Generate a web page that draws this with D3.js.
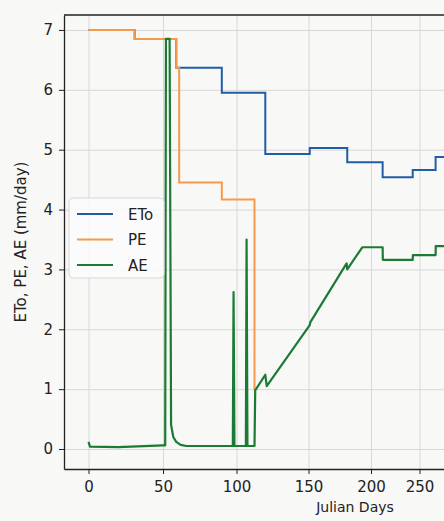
<!DOCTYPE html>
<html>
<head>
<meta charset="utf-8">
<script src="https://cdn.jsdelivr.net/npm/d3@7"></script>
<style>
  html, body { margin: 0; padding: 0; background: #f8f8f7; }
  #chart { width: 444px; height: 521px; overflow: hidden; }
  text { font-family: "DejaVu Sans", sans-serif; fill: #222; }
  .grid line { stroke: #d4d4d4; stroke-width: 0.9; }
  .grid path { display: none; }
  .axis path, .axis line { stroke: #222; }
  .axis text { font-size: 15px; }
</style>
</head>
<body>
<div id="chart"></div>
<script>
// ── Data ─────────────────────────────────────────────────────────────────
// ETo: monthly reference values, each holds until the next day listed
const etoDays = [0, 31, 59, 90, 120, 151, 181, 212, 243, 273, 290];
const etoValues = [7.0, 6.85, 6.37, 5.95, 4.93, 5.03, 4.79, 4.54, 4.66, 4.88, 4.88];

// PE: step values (stepAfter), last step is the drop before AE covers it
const peDays = [0, 31, 59, 61, 90, 112.5];
const peValues = [7.0, 6.85, 6.37, 4.45, 4.17, 0.98];

// AE: traced points
const aeDays = [
  0, 1, 20, 50, 51.5, 52, 54.5, 55.5, 57, 59, 62, 66,
  97.5, 98, 98.6, 106.5, 107, 107.6, 112.5, 113,
  120, 121, 151, 151.5, 180.5, 181, 193, 212, 212.2, 243, 243.2, 273, 273.2, 290,
];
const aeValues = [
  0.12, 0.04, 0.03, 0.06, 0.06, 6.85, 6.85, 0.4, 0.2, 0.12, 0.07, 0.05,
  0.05, 2.62, 0.05, 0.05, 3.5, 0.05, 0.05, 0.98,
  1.24, 1.05, 2.07, 2.12, 3.1, 3.0, 3.37, 3.37, 3.16, 3.16, 3.24, 3.24, 3.39, 3.39,
];

const xTicks = [0, 50, 100, 150, 200, 250];
const yTicks = [0, 1, 2, 3, 4, 5, 6, 7];
const seriesNames = ["ETo", "PE", "AE"];

function renderChart(selector) {
  // ── Dimensions ─────────────────────────────────────────────────────────
  const W = 444, H = 521;
  const plot = { left: 64, top: 15, right: 447.5, bottom: 469 };

  const svg = d3.select(selector)
    .append("svg")
    .attr("width", W)
    .attr("height", H);

  // ── Scales ─────────────────────────────────────────────────────────────
  // the printed page bends away to the right, so day spacing shrinks
  const x = d3.scaleLinear()
    .domain([-16.5, 0, 50, 100, 150, 200, 250, 290])
    .range([plot.left, 88.5, 163, 236.5, 308.5, 371, 419.5, plot.right]);

  const y = d3.scaleLinear()
    .domain([-0.334, 7.25])
    .range([plot.bottom, plot.top]);

  const color = d3.scaleOrdinal()
    .domain(seriesNames)
    .range(["#1f5ea6", "#f7994a", "#1b7a33"]);

  // ── Grid ───────────────────────────────────────────────────────────────
  svg.append("g")
    .attr("class", "grid")
    .attr("transform", `translate(0,${plot.bottom})`)
    .call(d3.axisBottom(x).tickValues(xTicks).tickSize(-(plot.bottom - plot.top)).tickFormat(""));

  svg.append("g")
    .attr("class", "grid")
    .attr("transform", `translate(${plot.left},0)`)
    .call(d3.axisLeft(y).tickValues(yTicks).tickSize(-(plot.right - plot.left)).tickFormat(""));

  // ── Lines ──────────────────────────────────────────────────────────────
  svg.append("clipPath")
    .attr("id", "plot-clip")
    .append("rect")
    .attr("x", plot.left)
    .attr("y", plot.top)
    .attr("width", plot.right - plot.left)
    .attr("height", plot.bottom - plot.top);

  const lines = svg.append("g").attr("clip-path", "url(#plot-clip)");

  const toPoints = (days, values) => days.map((d, i) => [d, values[i]]);

  const stepLine = d3.line()
    .x((d) => x(d[0]))
    .y((d) => y(d[1]))
    .curve(d3.curveStepAfter);

  const plainLine = d3.line()
    .x((d) => x(d[0]))
    .y((d) => y(d[1]));

  lines.append("path")
    .attr("d", stepLine(toPoints(etoDays, etoValues)))
    .attr("fill", "none")
    .attr("stroke", color("ETo"))
    .attr("stroke-width", 2);

  lines.append("path")
    .attr("d", stepLine(toPoints(peDays, peValues)))
    .attr("fill", "none")
    .attr("stroke", color("PE"))
    .attr("stroke-width", 2);

  lines.append("path")
    .attr("d", plainLine(toPoints(aeDays, aeValues)))
    .attr("fill", "none")
    .attr("stroke", color("AE"))
    .attr("stroke-width", 2.2)
    .attr("stroke-linejoin", "round");

  // ── Axes ───────────────────────────────────────────────────────────────
  const xAxis = svg.append("g")
    .attr("class", "axis")
    .attr("transform", `translate(0,${plot.bottom})`)
    .call(d3.axisBottom(x).tickValues(xTicks).tickSize(5).tickPadding(7).tickSizeOuter(0));
  xAxis.select(".domain").attr("stroke-width", 1.3);

  const yAxis = svg.append("g")
    .attr("class", "axis")
    .attr("transform", `translate(${plot.left},0)`)
    .call(d3.axisLeft(y).tickValues(yTicks).tickSize(5).tickPadding(6).tickSizeOuter(0));
  yAxis.select(".domain").attr("stroke-width", 1.3);

  // top spine
  svg.append("line")
    .attr("x1", plot.left)
    .attr("x2", plot.right)
    .attr("y1", plot.top)
    .attr("y2", plot.top)
    .attr("stroke", "#222")
    .attr("stroke-width", 1.3);

  // ── Axis labels ────────────────────────────────────────────────────────
  svg.append("text")
    .attr("x", 355)
    .attr("y", 512)
    .attr("text-anchor", "middle")
    .style("font-size", "14px")
    .text("Julian Days");

  svg.append("text")
    .attr("transform", "translate(26,242) rotate(-90)")
    .attr("text-anchor", "middle")
    .style("font-size", "15px")
    .text("ETo, PE, AE (mm/day)");

  // ── Legend ─────────────────────────────────────────────────────────────
  const legend = svg.append("g").attr("transform", "translate(69,198)");

  legend.append("rect")
    .attr("width", 95)
    .attr("height", 80)
    .attr("rx", 4)
    .attr("fill", "#fbfbfb")
    .attr("fill-opacity", 0.9)
    .attr("stroke", "#d8d8d8");

  seriesNames.forEach((name, i) => {
    const row = legend.append("g").attr("transform", `translate(0,${16 + i * 25.5})`);
    row.append("line")
      .attr("x1", 8)
      .attr("x2", 44)
      .attr("stroke", color(name))
      .attr("stroke-width", 2.2);
    row.append("text")
      .attr("x", 59)
      .attr("y", 5.5)
      .style("font-size", "15px")
      .text(name);
  });
}

// ── Render ───────────────────────────────────────────────────────────────
renderChart("#chart");
</script>
</body>
</html>
